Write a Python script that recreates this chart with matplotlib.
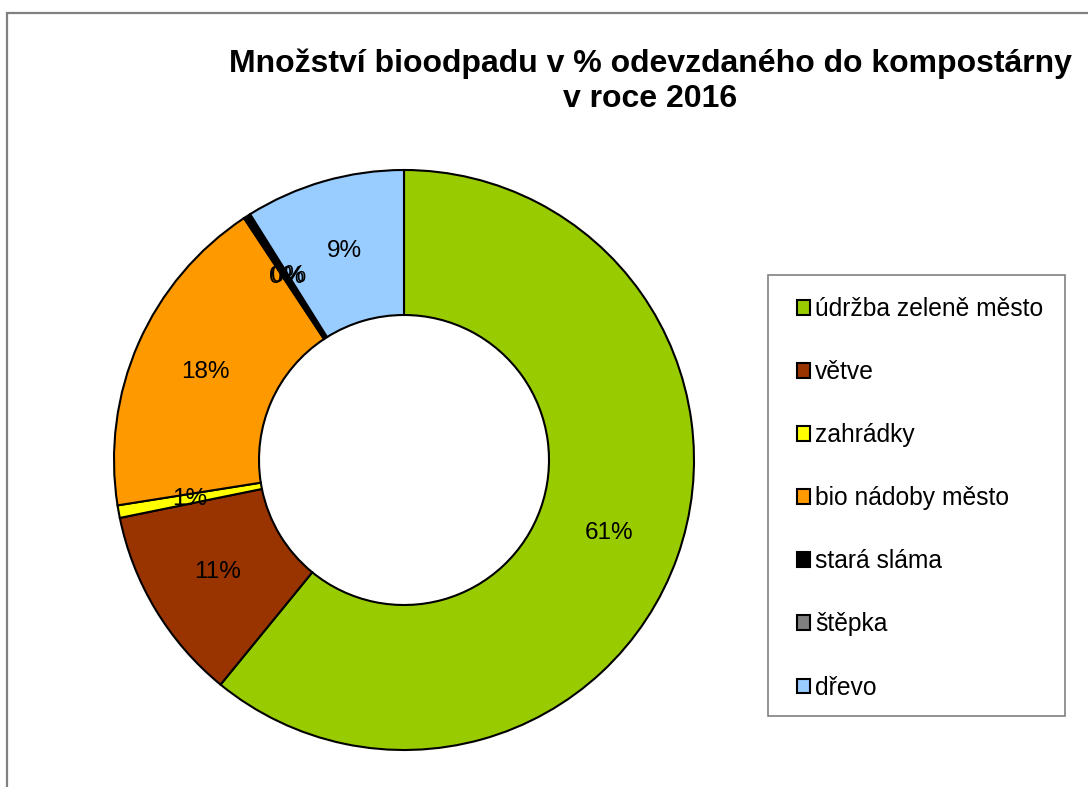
import matplotlib
matplotlib.use("Agg")

import matplotlib.pyplot as plt
from matplotlib.patches import Rectangle

plt.rcParams["font.family"] = ["Liberation Sans", "DejaVu Sans"]

categories = [
    "údržba zeleně město",
    "větve",
    "zahrádky",
    "bio nádoby město",
    "stará sláma",
    "štěpka",
    "dřevo",
]
shares = [60.9, 10.9, 0.7, 18.2, 0.4, 0.0, 8.9]
colors = ["#99CC00", "#993300", "#FFFF00", "#FF9900", "#000000", "#808080", "#99CCFF"]
title = "Množství bioodpadu v % odevzdaného do kompostárny\nv roce 2016"

W, H = 1088, 787
fig = plt.figure(figsize=(W / 100, H / 100), dpi=100)

# grey chart-area frame, cut off at right and bottom like the source
fig.patches.append(Rectangle((7 / W, -0.05), 1.2, (H - 13) / H + 0.05,
                             transform=fig.transFigure, fill=False,
                             edgecolor="#808080", linewidth=1.6))

cx, cy, r = 404, 460, 290
ax = fig.add_axes([(cx - r) / W, (H - cy - r) / H, 2 * r / W, 2 * r / H])

wedges, _, autotexts = ax.pie(
    shares,
    colors=colors,
    startangle=90,
    counterclock=False,
    radius=1.0,
    autopct=lambda p: f"{p:.0f}%",
    pctdistance=0.75,
    wedgeprops=dict(width=0.5, edgecolor="black", linewidth=1.5),
    textprops=dict(fontsize=17.5, color="black"),
)
ax.set_xlim(-1.0, 1.0)
ax.set_ylim(-1.0, 1.0)
ax.set_aspect("equal")
ax.axis("off")

fig.text(650 / W, 1 - 81 / H, title, ha="center", va="center",
         fontsize=23, fontweight="bold", linespacing=1.22)

# legend box drawn separately so the inner padding can differ per side
fig.patches.append(Rectangle((768 / W, 1 - 716 / H), (1065 - 768) / W, (716 - 275) / H,
                             transform=fig.transFigure, facecolor="white",
                             edgecolor="#808080", linewidth=1.2, zorder=1))

leg = fig.legend(
    wedges, categories,
    loc="upper left",
    bbox_to_anchor=(797 / W, 1 - 297 / H),
    frameon=False,
    fontsize=17.7,
    handlelength=0.53, handleheight=0.53, handletextpad=0.2,
    labelspacing=1.59, borderpad=0.0, borderaxespad=0.0,
)
leg.set_zorder(3)
for h in leg.legend_handles:
    h.set_linewidth(1.5)

fig.savefig("out.png", dpi=100)
